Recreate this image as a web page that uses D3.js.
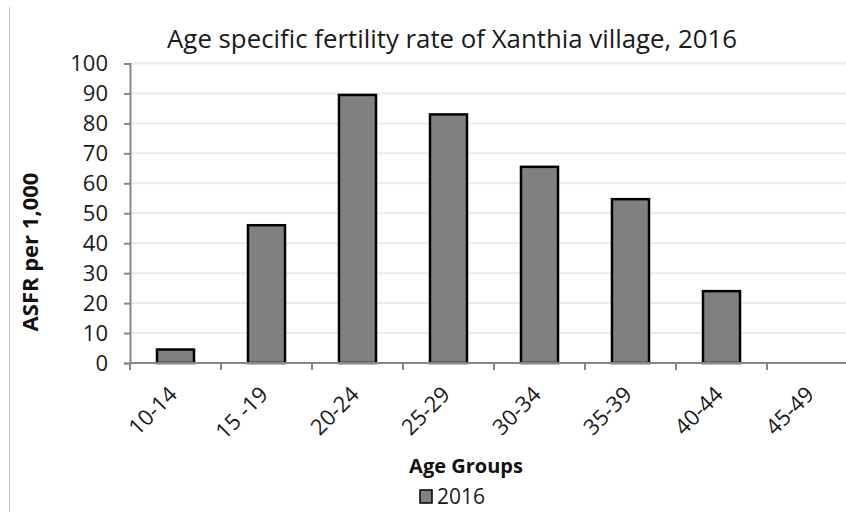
<!DOCTYPE html>
<html>
<head>
<meta charset="utf-8">
<script src="https://cdn.jsdelivr.net/npm/d3@7"></script>
<style>
  html, body { margin: 0; padding: 0; background: #fff; }
  svg { display: block; font-family: "Open Sans", "Noto Sans", sans-serif; }
</style>
</head>
<body>
<div id="chart"></div>
<script>
// Datos del gráfico
const ageGroups = ["10-14", "15 -19", "20-24", "25-29", "30-34", "35-39", "40-44", "45-49"];
const asfr2016 = [4.5, 46, 89.5, 83, 65.5, 54.7, 24, 0];
const yTicks = [0, 10, 20, 30, 40, 50, 60, 70, 80, 90, 100];
const seriesName = "2016";
const chartTitle = "Age specific fertility rate of Xanthia village, 2016";
const xTitle = "Age Groups";
const yTitle = "ASFR per 1,000";

// Dimensiones
const W = 846, H = 512;
const plot = { left: 130, right: 858, top: 63.5, bottom: 363 };

const svg = d3.select("#chart")
    .append("svg")
    .attr("width", W)
    .attr("height", H);

// Borde izquierdo del área del gráfico
svg.append("line")
    .attr("x1", 9.5).attr("x2", 9.5)
    .attr("y1", 7).attr("y2", H)
    .attr("stroke", "#c9c9c9")
    .attr("stroke-width", 1);

// Escala X
const x = d3.scaleBand()
    .domain(ageGroups)
    .range([plot.left, plot.right])
    .paddingInner(0.593)
    .paddingOuter(0.2965);
const step = x.step();

// Escala Y
const y = d3.scaleLinear()
    .domain([0, 100])
    .range([plot.bottom, plot.top]);

// Líneas de cuadrícula
svg.append("g")
    .selectAll("line")
    .data(yTicks.filter(d => d > 0))
    .enter()
    .append("line")
    .attr("x1", plot.left)
    .attr("x2", W)
    .attr("y1", d => y(d))
    .attr("y2", d => y(d))
    .attr("stroke", "#eeece1")
    .attr("stroke-width", 2);

// Eje Y
const yAxis = svg.append("g")
    .attr("transform", `translate(${plot.left},0)`)
    .call(d3.axisLeft(y).tickValues(yTicks).tickSize(6).tickPadding(16).tickFormat(d3.format("d")));
yAxis.select(".domain").attr("stroke", "#868686").attr("stroke-width", 2);
yAxis.selectAll(".tick line").attr("stroke", "#868686").attr("stroke-width", 2);
yAxis.selectAll("text")
    .attr("font-family", "Open Sans")
    .attr("font-size", 22)
    .attr("fill", "#1a1a1a");

// Barras
svg.selectAll("rect.bar")
    .data(asfr2016)
    .enter()
    .append("rect")
    .attr("class", "bar")
    .attr("x", (d, i) => x(ageGroups[i]))
    .attr("width", x.bandwidth())
    .attr("y", d => y(d))
    .attr("height", d => y(0) - y(d))
    .attr("fill", "#808080")
    .attr("stroke", d => d > 0 ? "#000" : "none")
    .attr("stroke-width", 2.5);

// Eje X (marcas entre categorías)
const xTickPos = d3.range(ageGroups.length + 1).map(i => plot.left + i * step);
const xAxisG = svg.append("g");
xAxisG.append("line")
    .attr("x1", plot.left).attr("x2", W)
    .attr("y1", y(0)).attr("y2", y(0))
    .attr("stroke", "#868686")
    .attr("stroke-width", 2);
xAxisG.selectAll("line.tick")
    .data(xTickPos)
    .enter()
    .append("line")
    .attr("class", "tick")
    .attr("x1", d => d).attr("x2", d => d)
    .attr("y1", y(0)).attr("y2", y(0) + 7)
    .attr("stroke", "#868686")
    .attr("stroke-width", 2);

// Etiquetas X rotadas
svg.append("g")
    .selectAll("text")
    .data(ageGroups)
    .enter()
    .append("text")
    .attr("transform", d => `translate(${x(d) + x.bandwidth() / 2 - 8},${y(0) + 22}) rotate(-45)`)
    .attr("text-anchor", "end")
    .attr("font-family", "Open Sans")
    .attr("font-size", 22)
    .attr("fill", "#1a1a1a")
    .attr("dy", "0.7em")
    .text(d => d);

// Título
svg.append("text")
    .attr("x", 452)
    .attr("y", 48)
    .attr("text-anchor", "middle")
    .attr("font-family", "Open Sans")
    .attr("font-size", 25.8)
    .attr("fill", "#1a1a1a")
    .text(chartTitle);

// Título del eje X
svg.append("text")
    .attr("x", 466)
    .attr("y", 473)
    .attr("text-anchor", "middle")
    .attr("font-family", "Open Sans")
    .attr("font-weight", "bold")
    .attr("font-size", 20)
    .attr("fill", "#111")
    .text(xTitle);

// Título del eje Y
svg.append("text")
    .attr("transform", "translate(38,252) rotate(-90)")
    .attr("text-anchor", "middle")
    .attr("font-family", "Open Sans")
    .attr("font-weight", "bold")
    .attr("font-size", 22)
    .attr("fill", "#111")
    .text(yTitle);

// Leyenda
const legend = svg.append("g").attr("transform", "translate(420,490)");
legend.append("rect")
    .attr("width", 12).attr("height", 13)
    .attr("fill", "#808080")
    .attr("stroke", "#000")
    .attr("stroke-width", 1.5);
legend.append("text")
    .attr("x", 17)
    .attr("y", 14)
    .attr("font-family", "Open Sans")
    .attr("font-size", 21)
    .attr("fill", "#1a1a1a")
    .text(seriesName);
</script>
</body>
</html>
